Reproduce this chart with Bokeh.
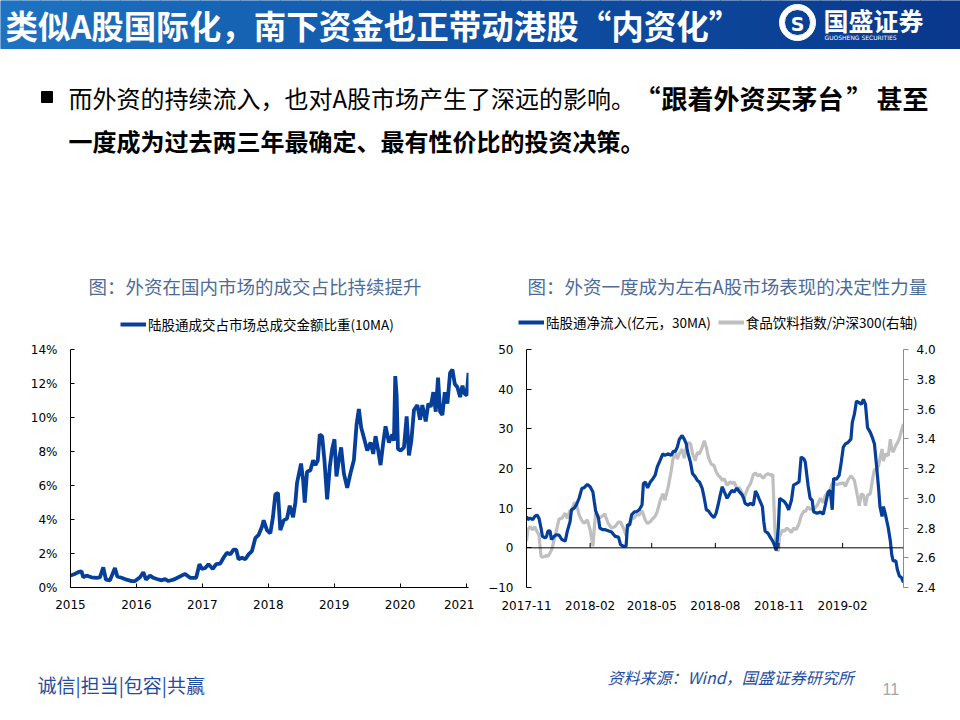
import numpy as np
import pandas as pd
from bokeh.plotting import figure
from bokeh.layouts import column, row
from bokeh.models import (Range1d, LinearAxis, FixedTicker, PrintfTickFormatter,
                          NumeralTickFormatter, DatetimeTickFormatter, Label, Span,
                          Legend, LegendItem, ColumnDataSource)
from bokeh.embed import file_html
from bokeh.resources import INLINE

# ---------------- data: left chart (share of total turnover, %, 10MA) ----------------
share_year = [2015.000, 2015.066, 2015.117, 2015.167, 2015.193, 2015.243, 2015.319, 2015.395,
              2015.446, 2015.497, 2015.537, 2015.598, 2015.674, 2015.710, 2015.775, 2015.851,
              2015.928, 2015.978, 2016.054, 2016.105, 2016.145, 2016.206, 2016.257, 2016.308,
              2016.384, 2016.434, 2016.485, 2016.561, 2016.637, 2016.738, 2016.814, 2016.906,
              2016.956, 2016.992, 2017.043, 2017.093, 2017.159, 2017.210, 2017.271, 2017.321,
              2017.372, 2017.423, 2017.473, 2017.514, 2017.549, 2017.600, 2017.651, 2017.701,
              2017.752, 2017.803, 2017.853, 2017.904, 2017.930, 2017.980, 2018.031, 2018.071,
              2018.107, 2018.147, 2018.183, 2018.234, 2018.284, 2018.325, 2018.376, 2018.411,
              2018.436, 2018.472, 2018.497, 2018.528, 2018.553, 2018.588, 2018.639, 2018.680,
              2018.715, 2018.751, 2018.781, 2018.817, 2018.852, 2018.893, 2018.933, 2018.969,
              2019.004, 2019.034, 2019.070, 2019.105, 2019.146, 2019.197, 2019.247, 2019.298,
              2019.339, 2019.374, 2019.410, 2019.450, 2019.501, 2019.551, 2019.592, 2019.627,
              2019.668, 2019.703, 2019.744, 2019.779, 2019.830, 2019.881, 2019.906, 2019.926,
              2019.947, 2019.967, 2020.008, 2020.058, 2020.099, 2020.134, 2020.170, 2020.210,
              2020.261, 2020.302, 2020.337, 2020.388, 2020.428, 2020.464, 2020.504, 2020.540,
              2020.575, 2020.606, 2020.641, 2020.677, 2020.717, 2020.758, 2020.793, 2020.829,
              2020.869, 2020.910, 2020.945, 2020.981, 2021.011, 2021.037]
share_pct = [0.70, 0.80, 0.90, 0.95, 0.60, 0.70, 0.60, 0.57,
             0.60, 1.18, 0.46, 0.42, 1.15, 0.65, 0.57, 0.46,
             0.38, 0.38, 0.60, 0.90, 0.46, 0.70, 0.57, 0.50,
             0.42, 0.50, 0.38, 0.46, 0.60, 0.80, 0.57, 0.57,
             1.37, 1.09, 1.15, 1.37, 1.09, 1.37, 1.40, 1.75,
             2.04, 1.95, 2.23, 2.23, 1.66, 1.75, 1.66, 1.95,
             2.14, 2.90, 3.09, 3.57, 3.95, 3.38, 3.19, 4.14,
             5.48, 5.57, 3.38, 3.95, 4.05, 4.81, 4.14, 5.00,
             6.15, 6.81, 7.29, 6.34, 5.00, 6.81, 6.90, 7.48,
             7.20, 7.48, 9.00, 8.90, 7.48, 5.19, 7.10, 8.15,
             8.72, 6.53, 7.48, 8.24, 6.72, 5.86, 6.72, 7.48,
             9.58, 10.50, 9.39, 8.82, 8.05, 8.53, 7.86, 8.90,
             8.05, 7.20, 8.53, 9.48, 8.53, 9.00, 8.63, 12.44,
             11.30, 8.15, 8.05, 8.24, 10.06, 7.77, 8.63, 10.44,
             10.73, 9.87, 10.73, 9.77, 10.82, 10.63, 11.49, 10.34,
             12.35, 10.34, 10.15, 11.49, 10.82, 12.63, 12.82, 11.97,
             11.78, 11.20, 11.87, 11.39, 11.30, 12.63]
share_year_ticks = [2015, 2016, 2017, 2018, 2019, 2020, 2021]
share_pct_ticks = [0, 2, 4, 6, 8, 10, 12, 14]

# ---------------- data: right chart ----------------
flow_dates = ["2017-11-01", "2017-11-03", "2017-11-06", "2017-11-10", "2017-11-13", "2017-11-16",
              "2017-11-19", "2017-11-22", "2017-11-24", "2017-11-28", "2017-11-30", "2017-12-02",
              "2017-12-05", "2017-12-07", "2017-12-11", "2017-12-14", "2017-12-18", "2017-12-22",
              "2017-12-27", "2017-12-30", "2018-01-03", "2018-01-05", "2018-01-09", "2018-01-12",
              "2018-01-16", "2018-01-20", "2018-01-23", "2018-01-28", "2018-02-01", "2018-02-05",
              "2018-02-07", "2018-02-09", "2018-02-13", "2018-02-15", "2018-02-19", "2018-02-22",
              "2018-02-27", "2018-03-04", "2018-03-09", "2018-03-14", "2018-03-17", "2018-03-21",
              "2018-03-25", "2018-03-27", "2018-03-30", "2018-04-02", "2018-04-06", "2018-04-09",
              "2018-04-13", "2018-04-17", "2018-04-19", "2018-04-22", "2018-04-25", "2018-04-29",
              "2018-05-03", "2018-05-06", "2018-05-09", "2018-05-13", "2018-05-17", "2018-05-20",
              "2018-05-25", "2018-05-29", "2018-06-01", "2018-06-04", "2018-06-07", "2018-06-10",
              "2018-06-14", "2018-06-17", "2018-06-20", "2018-06-22", "2018-06-26", "2018-06-29",
              "2018-07-03", "2018-07-06", "2018-07-09", "2018-07-13", "2018-07-16", "2018-07-19",
              "2018-07-22", "2018-07-26", "2018-07-30", "2018-08-02", "2018-08-05", "2018-08-08",
              "2018-08-11", "2018-08-14", "2018-08-18", "2018-08-22", "2018-08-25", "2018-08-28",
              "2018-09-01", "2018-09-05", "2018-09-09", "2018-09-11", "2018-09-13", "2018-09-17",
              "2018-09-21", "2018-09-25", "2018-09-28", "2018-10-01", "2018-10-04", "2018-10-08",
              "2018-10-10", "2018-10-12", "2018-10-16", "2018-10-20", "2018-10-23", "2018-10-26",
              "2018-10-28", "2018-10-31", "2018-11-02", "2018-11-06", "2018-11-09", "2018-11-12",
              "2018-11-15", "2018-11-19", "2018-11-22", "2018-11-26", "2018-11-30", "2018-12-03",
              "2018-12-07", "2018-12-09", "2018-12-13", "2018-12-16", "2018-12-19", "2018-12-21",
              "2018-12-26", "2018-12-31", "2019-01-04", "2019-01-07", "2019-01-11", "2019-01-14",
              "2019-01-17", "2019-01-19", "2019-01-23", "2019-01-27", "2019-01-30", "2019-02-02",
              "2019-02-05", "2019-02-09", "2019-02-13", "2019-02-15", "2019-02-18", "2019-02-21",
              "2019-02-25", "2019-02-28", "2019-03-03", "2019-03-06", "2019-03-09", "2019-03-13",
              "2019-03-16", "2019-03-19", "2019-03-22", "2019-03-25", "2019-03-27", "2019-03-30",
              "2019-04-01", "2019-04-04", "2019-04-08", "2019-04-11", "2019-04-13", "2019-04-15",
              "2019-04-19", "2019-04-21", "2019-04-24", "2019-04-27", "2019-04-30"]
flow_net = [7.9, 7.1, 7.5, 7.1, 7.9, 8.3,
            7.5, 5.0, 2.9, 2.5, 2.9, 4.2,
            4.3, 2.1, 2.9, 3.3, 3.2, 2.1,
            1.7, 4.2, 6.6, 9.6, 10.0, 10.8,
            12.5, 15.0, 15.1, 16.0, 15.4, 14.1,
            11.6, 9.3, 7.5, 5.0, 4.6, 4.6,
            4.3, 4.0, 2.9, 2.7, 0.8, 0.4,
            0.4, 5.8, 5.8, 8.3, 9.1, 9.1,
            9.6, 10.8, 16.2, 16.6, 15.1, 16.6,
            17.5, 18.3, 20.4, 22.0, 23.7, 23.3,
            23.7, 23.3, 24.3, 24.3, 25.4, 27.4,
            28.3, 27.4, 26.2, 24.1, 21.6, 18.7,
            17.9, 17.0, 16.6, 15.0, 12.5, 9.6,
            9.3, 8.3, 7.6, 8.7, 10.8, 13.3,
            15.4, 14.1, 12.5, 13.7, 14.5, 14.1,
            15.0, 14.1, 13.3, 12.5, 11.2, 10.8,
            11.2, 10.8, 14.3, 13.3, 12.0, 10.4,
            6.6, 4.2, 3.7, 2.5, 1.7, 0.4,
            -0.7, 5.0, 12.5, 12.0, 11.6, 10.8,
            9.6, 12.0, 15.8, 16.2, 16.6, 22.9,
            22.4, 21.6, 15.8, 12.5, 12.0, 9.1,
            8.7, 9.0, 8.5, 10.8, 14.1, 14.5,
            9.6, 17.5, 17.3, 18.3, 21.6, 25.4,
            26.2, 26.6, 27.4, 31.6, 33.7, 37.0,
            36.6, 36.2, 37.4, 36.2, 30.3, 29.1,
            27.8, 26.2, 20.8, 15.0, 10.4, 7.9,
            10.4, 8.3, 5.0, 1.7, -1.7, -3.3,
            -3.3, -5.4, -7.1, -7.5, -8.7]
food_ratio = [2.710, 2.787, 2.810, 2.787, 2.810, 2.777,
              2.755, 2.610, 2.604, 2.610, 2.617, 2.608,
              2.633, 2.650, 2.720, 2.777, 2.860, 2.865,
              2.899, 2.865, 2.920, 2.910, 2.970, 2.965,
              2.890, 2.850, 2.832, 2.854, 2.787, 2.677,
              2.799, 2.900, 2.880, 2.870, 2.880, 2.895,
              2.832, 2.799, 2.810, 2.840, 2.839, 2.800,
              2.750, 2.799, 2.820, 2.860, 2.870, 2.890,
              2.888, 2.915, 2.890, 2.850, 2.830, 2.843,
              2.865, 2.880, 2.910, 2.980, 3.030, 2.987,
              3.080, 3.180, 3.270, 3.309, 3.264, 3.300,
              3.330, 3.270, 3.340, 3.370, 3.370, 3.300,
              3.253, 3.309, 3.298, 3.342, 3.386, 3.342,
              3.275, 3.230, 3.220, 3.180, 3.154, 3.142,
              3.120, 3.130, 3.087, 3.110, 3.100, 3.109,
              3.070, 3.070, 3.030, 3.000, 3.020, 3.070,
              3.100, 3.160, 3.170, 3.150, 3.160, 3.140,
              3.135, 3.154, 3.165, 3.155, 3.160, 2.800,
              2.666, 2.644, 2.743, 2.787, 2.777, 2.800,
              2.790, 2.770, 2.799, 2.790, 2.830, 2.880,
              2.915, 2.910, 2.943, 2.925, 2.930, 2.925,
              2.950, 3.000, 2.970, 3.020, 3.035, 3.060,
              3.100, 3.109, 3.090, 3.098, 3.098, 3.105,
              3.080, 3.125, 3.150, 3.140, 3.120, 3.050,
              2.950, 3.030, 3.021, 2.950, 3.020, 3.030,
              3.120, 3.195, 3.190, 3.220, 3.270, 3.331,
              3.250, 3.298, 3.287, 3.397, 3.330, 3.310,
              3.355, 3.370, 3.400, 3.455, 3.500]
flow_month_ticks = ["2017-11-01", "2018-02-01", "2018-05-01", "2018-08-01", "2018-11-01", "2019-02-01"]
flow_ticks = [-10, 0, 10, 20, 30, 40, 50]
ratio_ticks = [2.4, 2.6, 2.8, 3.0, 3.2, 3.4, 3.6, 3.8, 4.0]

share_label = "陆股通成交占市场总成交金额比重(10MA)"
flow_label = "陆股通净流入(亿元，30MA)"
food_label = "食品饮料指数/沪深300(右轴)"

# ---------------- style ----------------
CJK = "Noto Sans CJK SC"
TICK_FONT = "DejaVu Sans"
BLUE = "#053f99"
GRAY = "#bfbfbf"
TITLE_BLUE = "#4d6c98"
FOOT_BLUE = "#1f4e9e"


def canvas(w, h, x0, x1, y0, y1):
    p = figure(width=w, height=h, x_range=Range1d(x0, x1), y_range=Range1d(y0, y1),
               x_axis_type=None, y_axis_type=None, toolbar_location=None,
               output_backend="svg", min_border=0)
    p.outline_line_color = None
    p.background_fill_color = "white"
    p.border_fill_color = "white"
    return p


def label(p, x, y, text, size, color="black", font=CJK, style="normal", align="left"):
    p.add_layout(Label(x=x, y=y, text=text, text_font=font, text_font_size=size,
                       text_font_style=style, text_color=color, text_align=align,
                       text_baseline="middle"))


# ---------------- header (slide title, bullet text, chart titles, legends) ----------------
header = canvas(960, 336, 0, 960, 336, 0)
n_strip = 48
edges = np.linspace(0, 960, n_strip + 1)
c0, c1, c2 = np.array([30, 116, 194]), np.array([15, 82, 166]), np.array([9, 56, 140])
strip_cols = []
for i in range(n_strip):
    t = (edges[i] + edges[i + 1]) / 2 / 960
    c = c0 + (c1 - c0) * t * 2 if t < 0.5 else c1 + (c2 - c1) * (t - 0.5) * 2
    strip_cols.append("#%02x%02x%02x" % tuple(int(v) for v in c))
header.quad(left=edges[:-1], right=edges[1:], top=0, bottom=48,
            fill_color=strip_cols, line_color=strip_cols)

label(header, 5, 24, "类似A股国际化，南下资金也正带动港股“内资化”", "32.5px", "white", style="bold")
# logo
header.annulus(x=[797], y=[22], inner_radius=13, outer_radius=18, color="white")
label(header, 797, 23, "S", "19px", "white", font="DejaVu Sans", style="bold", align="center")
label(header, 823, 19, "国盛证券", "25px", "white", style="bold")
label(header, 824, 37, "GUOSHENG SECURITIES", "6px", "white", font="DejaVu Sans")

# bullet text
header.quad(left=[41], right=[52], top=[91], bottom=[102], color="black")
label(header, 68, 97, "而外资的持续流入，也对A股市场产生了深远的影响。", "24px")
label(header, 660, 97, "“", "26px", style="bold", align="right")
label(header, 661, 97, "跟着外资买茅台", "26px", style="bold")
label(header, 846, 97, "”", "26px", style="bold")
label(header, 876, 97, "甚至", "26px", style="bold")
label(header, 68, 140, "一度成为过去两三年最确定、最有性价比的投资决策。", "24px", style="bold")
# chart titles
label(header, 88, 285, "图：外资在国内市场的成交占比持续提升", "18.5px", TITLE_BLUE)
label(header, 527, 285, "图：外资一度成为左右A股市场表现的决定性力量", "18.5px", TITLE_BLUE)

# legends: swatch renderers carry the series' line styles (their points lie off-canvas)
sw_blue = header.line(x=[-50, -40], y=[-50, -50], line_color=BLUE, line_width=4)
sw_gray = header.line(x=[-50, -40], y=[-50, -50], line_color=GRAY, line_width=4)


def legend(items, loc):
    return Legend(items=items, location=loc, orientation="horizontal", padding=0, margin=0,
                  spacing=7, border_line_color=None, background_fill_alpha=0,
                  label_text_font=CJK, label_text_font_size="13.5px", label_text_color="black",
                  label_height=14, glyph_width=26, glyph_height=14, label_standoff=2)


header.add_layout(legend([LegendItem(label=share_label, renderers=[sw_blue])], (120, 2)))
header.add_layout(legend([LegendItem(label=flow_label, renderers=[sw_blue]),
                          LegendItem(label=food_label, renderers=[sw_gray])], (518, 4)))


def style_axis(ax, tick_in=4, tick_out=0, standoff=5, line_color="black"):
    ax.axis_line_color = line_color
    ax.axis_line_width = 1
    ax.major_tick_line_color = line_color
    ax.major_tick_in = tick_in
    ax.major_tick_out = tick_out
    ax.minor_tick_line_color = None
    ax.major_label_text_font = TICK_FONT
    ax.major_label_text_font_size = "12px"
    ax.major_label_text_color = "black"
    ax.major_label_standoff = standoff


# ---------------- left chart ----------------
left = figure(width=474, height=289, x_range=Range1d(2015, share_year[-1]),
              y_range=Range1d(0, 14), toolbar_location=None, output_backend="svg",
              min_border_left=70, min_border_right=6, min_border_top=7, min_border_bottom=38)
left.outline_line_color = None
left.grid.visible = False
left_src = ColumnDataSource(dict(x=share_year, y=share_pct))
left.line("x", "y", source=left_src, line_color=BLUE, line_width=3.8)
left.xaxis.ticker = FixedTicker(ticks=share_year_ticks)
left.xaxis.major_label_overrides = {t: str(t) for t in share_year_ticks}
left.yaxis.ticker = FixedTicker(ticks=share_pct_ticks)
left.yaxis.formatter = PrintfTickFormatter(format="%d%%")
style_axis(left.xaxis[0], tick_in=4, standoff=12)
style_axis(left.yaxis[0], tick_in=4, standoff=13)

# ---------------- right chart ----------------
fdates = pd.to_datetime(flow_dates)
right = figure(width=486, height=289, x_axis_type="datetime",
               x_range=Range1d(fdates[0], fdates[-1]), y_range=Range1d(-10, 50),
               toolbar_location=None, output_backend="svg",
               min_border_left=52, min_border_right=57, min_border_top=13, min_border_bottom=35)
right.outline_line_color = None
right.grid.visible = False
right.extra_y_ranges = {"ratio": Range1d(2.4, 4.0)}
rsrc = ColumnDataSource(dict(x=fdates, flow=flow_net, ratio=food_ratio))
right.line("x", "ratio", source=rsrc, y_range_name="ratio", line_color=GRAY, line_width=3.2)
right.line("x", "flow", source=rsrc, line_color=BLUE, line_width=3.2)

month_ms = [pd.Timestamp(s).timestamp() * 1000 for s in flow_month_ticks]
right.xaxis.ticker = FixedTicker(ticks=month_ms)
fmt = "%Y-%m"
right.xaxis.formatter = DatetimeTickFormatter(years=fmt, months=fmt, days=fmt, hours=fmt,
                                              minutes=fmt, seconds=fmt, milliseconds=fmt,
                                              microseconds=fmt, hourmin=fmt, minsec=fmt)
style_axis(right.xaxis[0], tick_in=0, standoff=13)
right.xaxis.axis_line_color = None
right.xaxis.major_tick_line_color = None

right.yaxis.ticker = FixedTicker(ticks=flow_ticks)
style_axis(right.yaxis[0], tick_in=5, standoff=13)

ax_r = LinearAxis(y_range_name="ratio", ticker=FixedTicker(ticks=ratio_ticks),
                  formatter=NumeralTickFormatter(format="0.0"))
style_axis(ax_r, tick_in=0, tick_out=5, standoff=8, line_color="#8c8c8c")
right.add_layout(ax_r, "right")

right.add_layout(Span(location=0, dimension="width", line_color="black", line_width=1))
tick_dates = pd.to_datetime(flow_month_ticks)
right.segment(x0=tick_dates, y0=0, x1=tick_dates, y1=1.25, line_color="black", line_width=1)

# ---------------- footer ----------------
footer = canvas(960, 87, 0, 960, 712, 625)
label(footer, 37, 684, "诚信|担当|包容|共赢", "19px", FOOT_BLUE)
label(footer, 607, 676, "资料来源：Wind，国盛证券研究所", "16px", FOOT_BLUE, style="italic")
label(footer, 882, 688, "11", "16px", "#a6a6a6", font="Liberation Sans")

page = column(header, row(left, right), footer)
open("out.html", "w").write(file_html(page, INLINE))
